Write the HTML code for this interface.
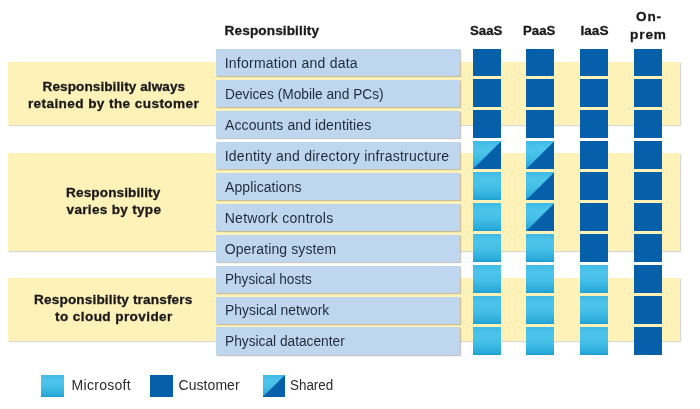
<!DOCTYPE html>
<html lang="en">
<head>
<meta charset="utf-8">
<title>Shared responsibility model</title>
<style>
html,body{margin:0;padding:0;background:#fff;}
body{width:700px;height:409px;position:relative;overflow:hidden;font-family:"Liberation Sans",sans-serif;color:#1a1a1a;}
.band{position:absolute;left:8.4px;width:671.6px;background:#fff2b9;box-shadow:1px 1px 1px rgba(120,110,90,.28);}
.box{position:absolute;left:215.7px;width:243.9px;height:27.2px;background:#bed7ef;box-shadow:1px 1px 1px rgba(110,105,95,.38);}
.sq{position:absolute;width:28.3px;height:27.95px;}
.C{background:#0560a9;}
.M,.S{background:linear-gradient(to bottom,#3fbae6 0%,#4ec4ea 25%,#45bfe7 55%,#2aabda 90%,#1d9dd0 100%);}
.S:after{content:"";position:absolute;left:0;top:0;right:0;bottom:0;background:#0560a9;clip-path:polygon(100% 0,100% 100%,0 100%);}
.t{position:absolute;line-height:20px;white-space:nowrap;transform-origin:0 0;}
.lab{font-size:14px;color:#1f2b39;}
.b{font-size:13.6px;font-weight:bold;color:#1a1a1a;-webkit-text-stroke:0.3px #1a1a1a;}
.lg{font-size:14px;color:#2b2b2b;}
.k{position:absolute;top:374.6px;width:22.7px;height:22.4px;}
</style>
</head>
<body>
<div class="band" style="top:62.4px;height:62.6px"></div>
<div class="band" style="top:152.9px;height:98.2px"></div>
<div class="band" style="top:277.9px;height:62.8px"></div>
<div class="box" style="top:48.90px"></div><div class="sq C" style="left:472.8px;top:48.50px"></div><div class="sq C" style="left:526.0px;top:48.50px"></div><div class="sq C" style="left:580.0px;top:48.50px"></div><div class="sq C" style="left:634.05px;top:48.50px"></div>
<div class="box" style="top:79.85px"></div><div class="sq C" style="left:472.8px;top:79.45px"></div><div class="sq C" style="left:526.0px;top:79.45px"></div><div class="sq C" style="left:580.0px;top:79.45px"></div><div class="sq C" style="left:634.05px;top:79.45px"></div>
<div class="box" style="top:110.80px"></div><div class="sq C" style="left:472.8px;top:110.40px"></div><div class="sq C" style="left:526.0px;top:110.40px"></div><div class="sq C" style="left:580.0px;top:110.40px"></div><div class="sq C" style="left:634.05px;top:110.40px"></div>
<div class="box" style="top:141.75px"></div><div class="sq S" style="left:472.8px;top:141.35px"></div><div class="sq S" style="left:526.0px;top:141.35px"></div><div class="sq C" style="left:580.0px;top:141.35px"></div><div class="sq C" style="left:634.05px;top:141.35px"></div>
<div class="box" style="top:172.70px"></div><div class="sq M" style="left:472.8px;top:172.30px"></div><div class="sq S" style="left:526.0px;top:172.30px"></div><div class="sq C" style="left:580.0px;top:172.30px"></div><div class="sq C" style="left:634.05px;top:172.30px"></div>
<div class="box" style="top:203.65px"></div><div class="sq M" style="left:472.8px;top:203.25px"></div><div class="sq S" style="left:526.0px;top:203.25px"></div><div class="sq C" style="left:580.0px;top:203.25px"></div><div class="sq C" style="left:634.05px;top:203.25px"></div>
<div class="box" style="top:234.60px"></div><div class="sq M" style="left:472.8px;top:234.20px"></div><div class="sq M" style="left:526.0px;top:234.20px"></div><div class="sq C" style="left:580.0px;top:234.20px"></div><div class="sq C" style="left:634.05px;top:234.20px"></div>
<div class="box" style="top:265.55px"></div><div class="sq M" style="left:472.8px;top:265.15px"></div><div class="sq M" style="left:526.0px;top:265.15px"></div><div class="sq M" style="left:580.0px;top:265.15px"></div><div class="sq C" style="left:634.05px;top:265.15px"></div>
<div class="box" style="top:296.50px"></div><div class="sq M" style="left:472.8px;top:296.10px"></div><div class="sq M" style="left:526.0px;top:296.10px"></div><div class="sq M" style="left:580.0px;top:296.10px"></div><div class="sq C" style="left:634.05px;top:296.10px"></div>
<div class="box" style="top:327.45px"></div><div class="sq M" style="left:472.8px;top:327.05px"></div><div class="sq M" style="left:526.0px;top:327.05px"></div><div class="sq M" style="left:580.0px;top:327.05px"></div><div class="sq C" style="left:634.05px;top:327.05px"></div>
<div class="k M" style="left:41.2px"></div><div class="k C" style="left:150.1px"></div><div class="k S" style="left:262.8px"></div>
<div class="t lab" style="left:224.70px;top:53.00px;letter-spacing:0.237px">Information and data</div>
<div class="t lab" style="left:224.72px;top:84.00px;transform:scaleX(0.9806)">Devices (Mobile and PCs)</div>
<div class="t lab" style="left:225.00px;top:115.00px;letter-spacing:0.100px">Accounts and identities</div>
<div class="t lab" style="left:224.70px;top:146.00px;letter-spacing:0.247px">Identity and directory infrastructure</div>
<div class="t lab" style="left:225.00px;top:177.00px;letter-spacing:0.100px">Applications</div>
<div class="t lab" style="left:224.70px;top:208.00px;letter-spacing:0.287px">Network controls</div>
<div class="t lab" style="left:224.70px;top:239.00px;letter-spacing:0.113px">Operating system</div>
<div class="t lab" style="left:224.73px;top:269.00px;transform:scaleX(0.9693)">Physical hosts</div>
<div class="t lab" style="left:224.71px;top:300.00px;transform:scaleX(0.9923)">Physical network</div>
<div class="t lab" style="left:224.72px;top:331.00px;transform:scaleX(0.9802)">Physical datacenter</div>
<div class="t b" style="left:224.60px;top:21.00px;letter-spacing:0.115px">Responsibility</div>
<div class="t b" style="left:470.33px;top:21.00px;transform:scaleX(0.9719)">SaaS</div>
<div class="t b" style="left:523.33px;top:21.00px;transform:scaleX(0.9719)">PaaS</div>
<div class="t b" style="left:580.40px;top:21.00px;letter-spacing:0.067px">IaaS</div>
<div class="t b" style="left:636.00px;top:7.00px;letter-spacing:0.850px">On-</div>
<div class="t b" style="left:630.10px;top:25.00px;letter-spacing:0.867px">prem</div>
<div class="t b" style="left:42.50px;top:77.00px;letter-spacing:0.070px">Responsibility always</div>
<div class="t b" style="left:27.90px;top:94.00px;letter-spacing:0.400px">retained by the customer</div>
<div class="t b" style="left:66.10px;top:183.00px;letter-spacing:0.100px">Responsibility</div>
<div class="t b" style="left:66.60px;top:200.00px;letter-spacing:0.285px">varies by type</div>
<div class="t b" style="left:34.10px;top:290.00px;letter-spacing:0.143px">Responsibility transfers</div>
<div class="t b" style="left:55.10px;top:307.00px;letter-spacing:0.388px">to cloud provider</div>
<div class="t lg" style="left:71.60px;top:375.00px;letter-spacing:0.288px">Microsoft</div>
<div class="t lg" style="left:178.60px;top:375.00px;letter-spacing:0.043px">Customer</div>
<div class="t lg" style="left:289.64px;top:375.00px;transform:scaleX(0.9581)">Shared</div>
</body>
</html>
